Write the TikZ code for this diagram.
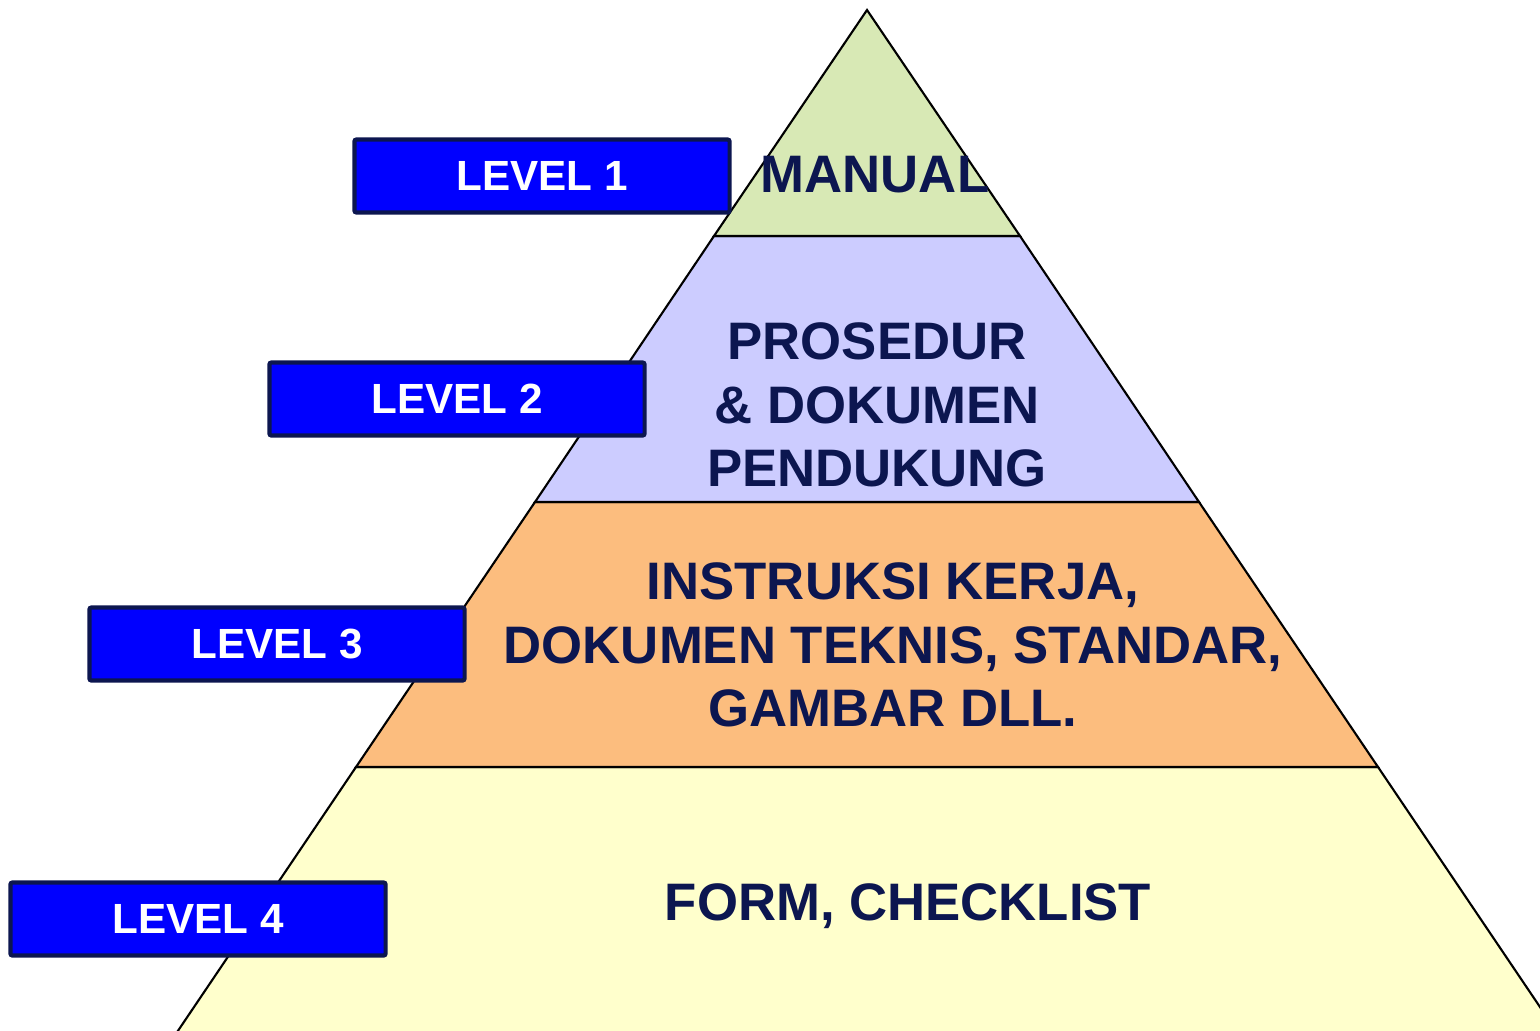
\documentclass[tikz,border=0pt]{standalone}
\usepackage{fontspec}
\setmainfont{Liberation Sans}
\usepackage{tikz}
\usepackage{xcolor}
\definecolor{TopGreen}{RGB}{216, 233, 181}
\definecolor{MidLilac}{RGB}{204, 204, 255}
\definecolor{LowOrange}{RGB}{252, 189, 126}
\definecolor{BaseYellow}{RGB}{255, 255, 204}
\definecolor{LevelBlue}{RGB}{0, 0, 255}
\definecolor{DarkNavy}{RGB}{12, 22, 80}

\begin{document}
\begin{tikzpicture}[x = 0.01cm, y = -0.01cm,
    levelbox/.style = {draw = DarkNavy, line width = 1.2pt, fill = LevelBlue, rounded corners = 0.6pt,
        minimum width = 3.75cm, minimum height = 0.73cm, inner sep = 0pt,
        text = white, font = \bfseries\fontsize{12}{14}\selectfont},
    bandtext/.style = {text = DarkNavy, align = center, font = \bfseries\fontsize{15}{18}\selectfont}]
            \useasboundingbox (0, 0) rectangle (1540, 1030);
            \clip (0, 0) rectangle (1540, 1030);
            %画金字塔各层
            \filldraw[fill = BaseYellow, line width = 0.6pt] (356, 767) -- (1378, 767) -- (1569, 1050) -- (165, 1050) -- cycle;
            \filldraw[fill = LowOrange, line width = 0.6pt] (535, 502) -- (1199, 502) -- (1378, 767) -- (356, 767) -- cycle;
            \filldraw[fill = MidLilac, line width = 0.6pt] (714, 236) -- (1020, 236) -- (1199, 502) -- (535, 502) -- cycle;
            \filldraw[fill = TopGreen, line width = 0.6pt] (867, 10) -- (1020, 236) -- (714, 236) -- cycle;
            %标注各层内容
            \node[bandtext, anchor = base] (manual) at (875, 192) {MANUAL};
            \node[bandtext] (prosedur) at (877, 405) {PROSEDUR\\\& DOKUMEN\\PENDUKUNG};
            \node[bandtext] (instruksi) at (893, 645) {INSTRUKSI KERJA,\\DOKUMEN TEKNIS, STANDAR,\\GAMBAR DLL.};
            \node[bandtext, anchor = base] (form) at (908, 920) {FORM, CHECKLIST};
            %标注层级
            \node[levelbox] (levelone) at (542, 176) {LEVEL 1};
            \node[levelbox] (leveltwo) at (457, 399) {LEVEL 2};
            \node[levelbox] (levelthree) at (277, 644) {LEVEL 3};
            \node[levelbox] (levelfour) at (198, 919) {LEVEL 4};
        \end{tikzpicture}
\end{document}
